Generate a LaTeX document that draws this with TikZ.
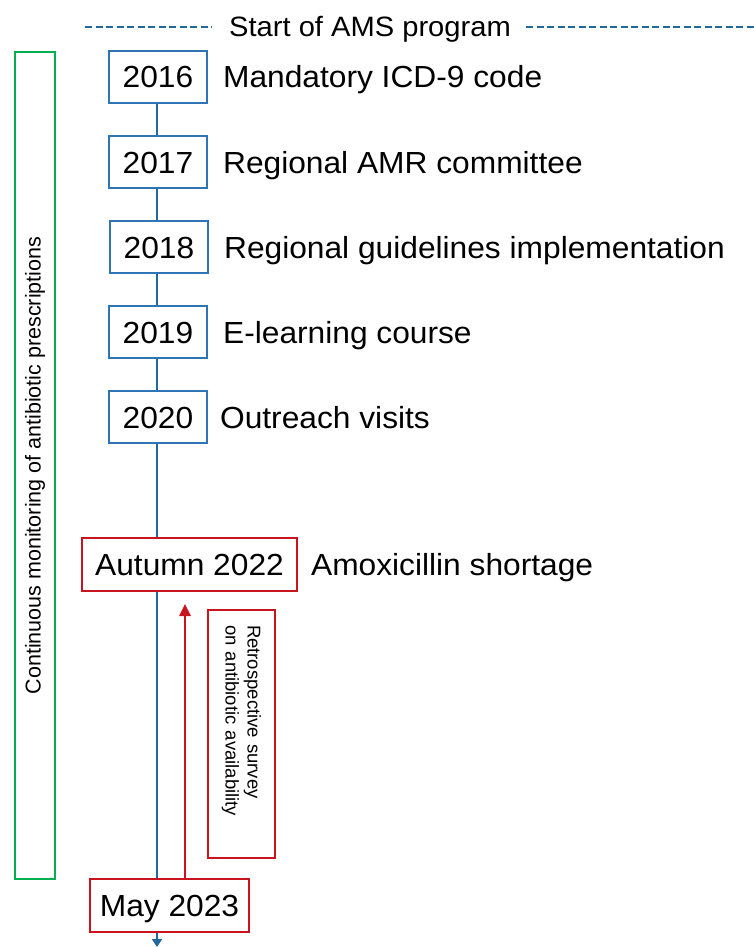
\documentclass[tikz,border=0pt]{standalone}
\usepackage{fontspec}
\setmainfont{Liberation Sans}[FakeStretch=1.04]
\newfontfamily\plainfont{Liberation Sans}
\usetikzlibrary{positioning,arrows.meta,backgrounds}

\definecolor{lineblue}{RGB}{31,105,155}
\definecolor{boxblue}{RGB}{46,117,182}
\definecolor{boxred}{RGB}{200,20,30}
\definecolor{boxgreen}{RGB}{0,176,80}

\tikzset{
    year/.style={draw=boxblue, line width=1.8pt, fill=white, inner sep=0pt,
        text height=22pt, text depth=0pt,
        minimum width=98pt, minimum height=52pt, font=\fontsize{30.5}{36}\selectfont},
    event/.style={draw=boxred, line width=1.8pt, fill=white, inner sep=0pt,
        text height=22pt, text depth=0pt,
        minimum height=53pt, font=\fontsize{30.5}{36}\selectfont},
    milestone/.style={inner sep=0pt, text height=22pt, text depth=0pt,
        font=\fontsize{30.5}{36}\selectfont},
    header/.style={draw=lineblue, line width=2pt, dash pattern=on 7pt off 3.5pt},
    timeline/.style={draw=lineblue, line width=2.5pt, -{Triangle[length=8pt,width=10pt]}},
    survarrow/.style={draw=boxred, line width=2.5pt, -{Triangle[length=12pt,width=11pt]}},
    monitor/.style={draw=boxgreen, line width=1.5pt, rotate=90, inner sep=0pt,
        minimum width=827pt, minimum height=40pt, font=\plainfont\fontsize{21.5}{26}\selectfont},
    survey/.style={draw=boxred, line width=1.8pt, rotate=-90, align=left,
        text width=218pt, inner xsep=15pt, inner ysep=0pt, minimum height=67pt,
        font=\plainfont\fontsize{18.5}{22}\selectfont},
}

\begin{document}
\begin{tikzpicture}[x=1pt,y=-1pt]
        \useasboundingbox (0,0) rectangle (754,947);

        % start of the program
        \node[milestone, font=\fontsize{28}{34}\selectfont, text height=20pt] (start) at (370,27) {Start of AMS program};
        \coordinate (dashL) at (85,27);
        \coordinate (dashR) at (754,27);
        \draw[header] (dashL) -- ([xshift=-17pt]start.west);
        \draw[header] ([xshift=15pt]start.east) -- (dashR);

        % years
        \node[year] (y2016) at (158,77) {2016};
        \node[year] (y2017) at (158,162) {2017};
        \node[year] (y2018) at (159,247) {2018};
        \node[year] (y2019) at (158,332) {2019};
        \node[year] (y2020) at (158,417) {2020};
        \node[event, minimum width=215pt] (autumn) at (189.5,564.5) {Autumn 2022};
        \node[event, minimum width=159pt] (may) at (169.5,905.5) {May 2023};

        \node[milestone, right=15pt of y2016] {Mandatory ICD-9 code};
        \node[milestone, right=15pt of y2017] {Regional AMR committee};
        \node[milestone, right=15pt of y2018] {Regional guidelines implementation};
        \node[milestone, right=15pt of y2019] {E-learning course};
        \node[milestone, right=12pt of y2020] {Outreach visits};
        \node[milestone, right=13pt of autumn] {Amoxicillin shortage};

        % time axis behind the boxes
        \coordinate (tlend) at (157,947);
        \begin{pgfonlayer}{background}
            \draw[timeline] (y2016.south -| tlend) -- (tlend);
        \end{pgfonlayer}

        % monitoring over the whole period
        \node[monitor] (monitor) at (35,465.5) {Continuous monitoring of antibiotic prescriptions};

        % survey back from may 2023
        \node[survey] (survey) at (241.5,734) {Retrospective survey\\on antibiotic availability};
        \coordinate (surveytip) at (185,604);
        \draw[survarrow] (may.north -| surveytip) -- (surveytip);
\end{tikzpicture}
\end{document}
